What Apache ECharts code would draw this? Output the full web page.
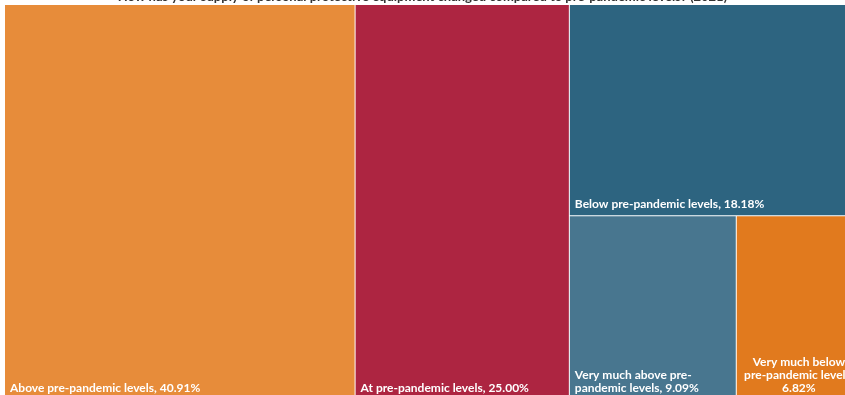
<!DOCTYPE html>
<html>
<head>
<meta charset="utf-8">
<script src="https://cdn.jsdelivr.net/npm/echarts@6/dist/echarts.min.js"></script>
<style>
  html, body { margin: 0; padding: 0; background: #fff; }
  #chart { width: 845px; height: 395px; }
</style>
</head>
<body>
<div id="chart"></div>
<script>
var categories = [
  'Above pre-pandemic levels',
  'At pre-pandemic levels',
  'Below pre-pandemic levels',
  'Very much above pre-pandemic levels',
  'Very much below pre-pandemic levels'
];
var shares = [40.91, 25.00, 18.18, 9.09, 6.82];
// how each label is broken into lines in the original
var labelText = [
  'Above pre-pandemic levels, 40.91%',
  'At pre-pandemic levels, 25.00%',
  'Below pre-pandemic levels, 18.18%',
  'Very much above pre-\npandemic levels, 9.09%',
  'Very much below\npre-pandemic levels,\n6.82%'
];
var colors = ['#E78C3A', '#AD2541', '#2D6480', '#48768F', '#E17A1E'];

var chart = echarts.init(document.getElementById('chart'));

var data = categories.map(function (c, i) {
  var item = {
    name: c,
    value: shares[i],
    itemStyle: { color: colors[i] }
  };
  if (i === 4) {
    item.label = { align: 'center', position: 'insideBottom' };
  }
  return item;
});

var option = {
  backgroundColor: '#fff',
  title: {
    text: 'How has your supply of personal protective equipment changed compared to pre-pandemic levels? (2021)',
    left: 'center',
    top: -15,
    textStyle: {
      fontFamily: 'Lato',
      fontSize: 13,
      fontWeight: 'bold',
      color: '#333'
    }
  },
  series: [
    {
      type: 'treemap',
      left: 5,
      top: 5,
      width: 856,
      height: 395,
      roam: false,
      nodeClick: false,
      breadcrumb: { show: false },
      squareRatio: 1,
      itemStyle: {
        borderWidth: 0,
        gapWidth: 1,
        borderColor: '#fff'
      },
      levels: [
        { itemStyle: { gapWidth: 1, borderWidth: 0, borderColor: '#fff' } }
      ],
      label: {
        show: true,
        position: 'insideBottomLeft',
        distance: 0,
        fontFamily: 'Lato',
        fontSize: 12,
        fontWeight: 'bold',
        lineHeight: 13,
        color: '#fff',
        formatter: function (p) {
          var i = categories.indexOf(p.name);
          return i >= 0 ? labelText[i] : p.name;
        }
      },
      data: data
    }
  ]
};

chart.setOption(option);
</script>
</body>
</html>
